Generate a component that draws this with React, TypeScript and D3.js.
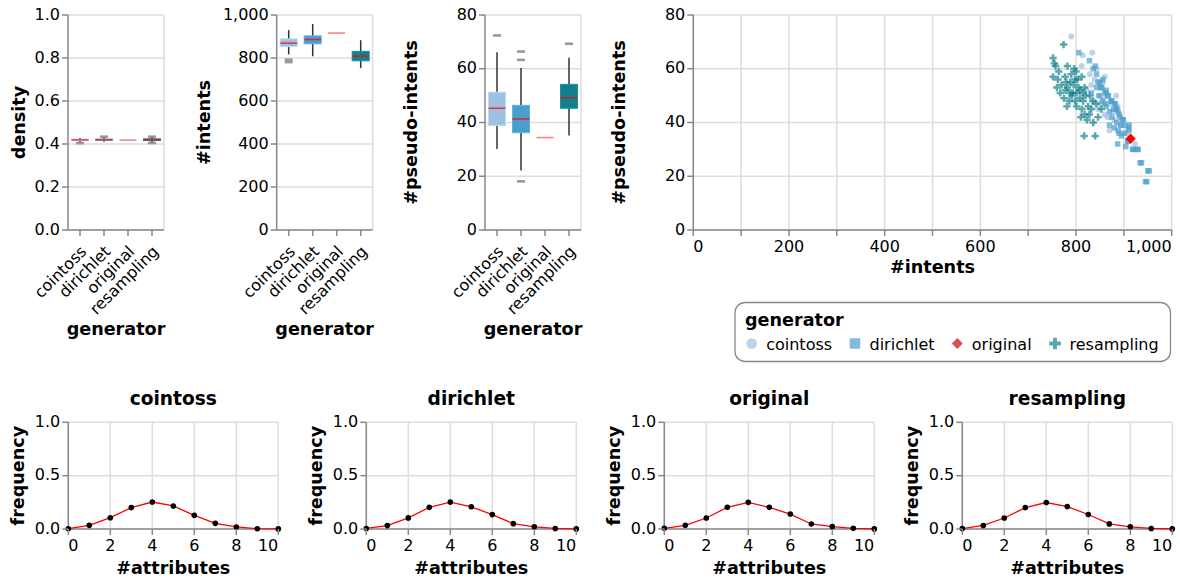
import React from "react";
import * as d3 from "d3";

const FONT = "DejaVu Sans";
const generators = ["cointoss", "dirichlet", "original", "resampling"];
const genColors = ["#a0c0e0", "#4a9ecb", "#c90904", "#12808c"];

// box stats: [whiskerLow, q1, median, q3, whiskerHigh]
const densityStats = [
  [0.408, 0.416, 0.419, 0.422, 0.428],
  [0.411, 0.417, 0.42, 0.423, 0.43],
  [0.418, 0.418, 0.418, 0.418, 0.418],
  [0.409, 0.416, 0.42, 0.424, 0.43],
];
const densityOutliers = [[0.404], [0.434], [], [0.405, 0.434]];

const intentsStats = [
  [817, 853, 869, 889, 930],
  [808, 866, 886, 903, 958],
  [916, 916, 916, 916, 916],
  [753, 787, 809, 831, 883],
];
const intentsOutliers = [[792, 781], [], [], []];

const pseudoStats = [
  [30.1, 38.9, 45.3, 51.3, 66.1],
  [22.1, 36.2, 41.3, 46.4, 60.3],
  [34.4, 34.4, 34.4, 34.4, 34.4],
  [35.2, 45.3, 49.2, 54.2, 64.1],
];
const pseudoOutliers = [[72.4], [66.4, 63.3, 18.1], [], [69.3]];

const densityTicks = [0, 0.2, 0.4, 0.6, 0.8, 1.0];
const intentsTicks = [0, 200, 400, 600, 800, 1000];
const pseudoTicks = [0, 20, 40, 60, 80];

// scatter: [#intents, #pseudo-intents]
const cointossPoints = [
  [790, 72], [834, 66], [814, 65], [812, 61], [860, 57], [829, 58], [839, 56],
  [853, 53], [863, 51], [849, 50], [836, 48], [873, 48], [884, 50], [877, 44],
  [866, 42], [860, 43], [894, 39], [923, 32], [846, 45], [822, 52], [843, 60],
  [870, 37], [887, 46], [856, 55], [868, 47], [880, 41], [850, 47], [905, 36],
  [832, 54], [858, 49],
];
const dirichletPoints = [
  [806, 66], [828, 63], [836, 60], [840, 61], [843, 58], [846, 55], [850, 55],
  [851, 53], [854, 53], [860, 51], [863, 52], [866, 50], [868, 50], [873, 48],
  [875, 48], [880, 47], [882, 47], [884, 45], [885, 45], [888, 44], [890, 43],
  [892, 42], [897, 41], [899, 41], [870, 39], [880, 38], [890, 36], [888, 37],
  [895, 35], [901, 36], [902, 39], [909, 38], [911, 39], [908, 33], [887, 32],
  [904, 31], [909, 33], [918, 30], [920, 30], [928, 30], [930, 30], [934, 25],
  [937, 25], [950, 22], [953, 22], [945, 18], [948, 18], [855, 48], [863, 46],
  [875, 42], [843, 53], [832, 51], [856, 56], [885, 40], [911, 37], [870, 44],
  [878, 45], [893, 39], [860, 47], [848, 50],
];
const resamplingPoints = [
  [774, 69], [752, 64], [755, 62], [757, 61], [764, 59], [782, 61], [796, 60],
  [800, 59], [752, 57], [762, 56], [777, 57], [780, 55], [788, 55], [798, 56],
  [812, 57], [760, 53], [770, 54], [782, 53], [793, 51], [801, 51], [808, 52],
  [818, 53], [775, 49], [791, 50], [798, 48], [815, 48], [781, 46], [801, 46],
  [812, 45], [825, 46], [832, 45], [818, 43], [823, 41], [836, 40], [846, 42],
  [853, 45], [842, 47], [817, 35], [840, 35], [829, 50], [788, 51], [805, 53],
  [767, 51], [795, 54], [808, 49], [820, 50], [786, 48], [810, 42], [828, 43],
  [778, 52], [803, 56], [790, 58], [814, 51], [835, 48],
];
const originalPoints = [[914, 34]];

const scatterXTicks = [0, 100, 200, 300, 400, 500, 600, 700, 800, 900, 1000];
const scatterXLabels = [0, 200, 400, 600, 800, 1000];
const scatterYTicks = [0, 20, 40, 60, 80];

const attributes = [0, 1, 2, 3, 4, 5, 6, 7, 8, 9, 10];
const freqCointoss = [0.003, 0.034, 0.106, 0.2, 0.253, 0.216, 0.128, 0.053, 0.019, 0.003, 0.001];
const freqDirichlet = [0.005, 0.032, 0.104, 0.203, 0.252, 0.208, 0.135, 0.05, 0.02, 0.005, 0.001];
const freqOriginal = [0.006, 0.034, 0.103, 0.203, 0.25, 0.203, 0.14, 0.047, 0.022, 0.006, 0.001];
const freqResampling = [0.004, 0.033, 0.103, 0.2, 0.248, 0.21, 0.136, 0.048, 0.02, 0.005, 0.001];
const freqSeries = [freqCointoss, freqDirichlet, freqOriginal, freqResampling];
const attrTicks = [0, 2, 4, 6, 8, 10];
const freqTicks = [0, 0.5, 1.0];

// layout
const TOP = 15;
const BOTTOM = 230;
const GRID = "#dddddd";
const AXIS = "#888888";
const LABEL_SIZE = 16;
const TITLE_SIZE = 17.6;

const diamondPath = (r: number) => `M${-r},0L0,${-r}L${r},0L0,${r}Z`;
const symbolPath = (i: number, area: number) => {
  if (i === 0) return d3.symbol(d3.symbolCircle, area)() as string;
  if (i === 1) return d3.symbol(d3.symbolSquare, area)() as string;
  if (i === 2) return diamondPath(Math.sqrt(area) / 2 * 1.0);
  return d3.symbol(d3.symbolCross, area)() as string;
};

function BoxPanel(props: {
  x0: number;
  max: number;
  ticks: number[];
  fmt: (n: number) => string;
  stats: number[][];
  outliers: number[][];
  title: string;
  titleX: number;
}) {
  const { x0, max, ticks, fmt, stats, outliers, title, titleX } = props;
  const y = d3.scaleLinear().domain([0, max]).range([BOTTOM, TOP]);
  const x = d3.scaleBand().domain(generators).range([x0, x0 + 96]);
  const bw = 17;
  return (
    <g>
      {ticks.map((t) => (
        <line key={"g" + t} x1={x0} x2={x0 + 96} y1={y(t)} y2={y(t)} stroke={GRID} strokeWidth={1.5} />
      ))}
      <line x1={x0 + 96} x2={x0 + 96} y1={TOP} y2={BOTTOM} stroke={GRID} strokeWidth={1.5} />
      {generators.map((g, i) => {
        const cx = (x(g) as number) + x.bandwidth() / 2;
        const [wl, q1, md, q3, wh] = stats[i];
        const isOrig = g === "original";
        return (
          <g key={g}>
            {outliers[i].map((o, j) => (
              <rect key={j} x={cx - 4} y={y(o) - 1.3} width={8} height={2.6} fill="#999" />
            ))}
            {!isOrig && (
              <line x1={cx} x2={cx} y1={y(wl)} y2={y(wh)} stroke="#333" strokeWidth={1.5} />
            )}
            {!isOrig && (
              <rect
                x={cx - bw / 2}
                y={y(q3)}
                width={bw}
                height={Math.max(0.5, y(q1) - y(q3))}
                fill={genColors[i]}
                stroke={d3.color(genColors[i])!.brighter(0.4).toString()}
                strokeWidth={1}
              />
            )}
            <line
              x1={cx - bw / 2}
              x2={cx + bw / 2}
              y1={y(md)}
              y2={y(md)}
              stroke={isOrig ? "#ff8080" : "red"}
              strokeOpacity={isOrig ? 1 : 0.7}
              strokeWidth={1.6}
            />
          </g>
        );
      })}
      <line x1={x0} x2={x0} y1={TOP} y2={BOTTOM} stroke={AXIS} strokeWidth={1.5} />
      <line x1={x0} x2={x0 + 96} y1={BOTTOM} y2={BOTTOM} stroke={AXIS} strokeWidth={1.5} />
      {ticks.map((t) => (
        <g key={"t" + t}>
          <line x1={x0 - 6} x2={x0} y1={y(t)} y2={y(t)} stroke={AXIS} strokeWidth={1.5} />
          <text x={x0 - 8} y={y(t)} textAnchor="end" dominantBaseline="middle" fontSize={LABEL_SIZE}>
            {fmt(t)}
          </text>
        </g>
      ))}
      {generators.map((g) => {
        const cx = (x(g) as number) + x.bandwidth() / 2;
        return (
          <g key={"xl" + g}>
            <line x1={cx} x2={cx} y1={BOTTOM} y2={BOTTOM + 6} stroke={AXIS} strokeWidth={1.5} />
            <text
              transform={`translate(${cx - 1},${BOTTOM + 14}) rotate(-45)`}
              textAnchor="end"
              dominantBaseline="hanging"
              fontSize={LABEL_SIZE}
            >
              {g}
            </text>
          </g>
        );
      })}
      <text
        transform={`translate(${titleX},${(TOP + BOTTOM) / 2}) rotate(-90)`}
        textAnchor="middle"
        fontSize={TITLE_SIZE}
        fontWeight="bold"
      >
        {title}
      </text>
      <text x={x0 + 48} y={335} textAnchor="middle" fontSize={TITLE_SIZE} fontWeight="bold">
        generator
      </text>
    </g>
  );
}

function Scatter() {
  const x0 = 693.3;
  const x1 = 1171.7;
  const x = d3.scaleLinear().domain([0, 1000]).range([x0, x1]);
  const y = d3.scaleLinear().domain([0, 80]).range([BOTTOM, TOP]);
  const series = [cointossPoints, dirichletPoints, null, resamplingPoints];
  const order = [0, 3, 1];
  const areas = [28, 30, 0, 30];
  const fmt = d3.format(",");
  return (
    <g>
      {scatterXTicks.map((t) => (
        <line key={"gx" + t} x1={x(t)} x2={x(t)} y1={TOP} y2={BOTTOM} stroke={GRID} strokeWidth={1.5} />
      ))}
      {scatterYTicks.map((t) => (
        <line key={"gy" + t} x1={x0} x2={x1} y1={y(t)} y2={y(t)} stroke={GRID} strokeWidth={1.5} />
      ))}
      {order.map((si) =>
        (series[si] as number[][]).map((p, j) => (
          <path
            key={si + "-" + j}
            d={symbolPath(si, areas[si])}
            transform={`translate(${x(p[0])},${y(p[1])})`}
            fill={genColors[si]}
            fillOpacity={0.7}
          />
        ))
      )}
      {originalPoints.map((p, j) => (
        <path key={"o" + j} d={diamondPath(5.2)} transform={`translate(${x(p[0])},${y(p[1])})`} fill="#ff0000" />
      ))}
      <line x1={x0} x2={x0} y1={TOP} y2={BOTTOM} stroke={AXIS} strokeWidth={1.5} />
      <line x1={x0} x2={x1} y1={BOTTOM} y2={BOTTOM} stroke={AXIS} strokeWidth={1.5} />
      {scatterYTicks.map((t) => (
        <g key={"ty" + t}>
          <line x1={x0 - 6} x2={x0} y1={y(t)} y2={y(t)} stroke={AXIS} strokeWidth={1.5} />
          <text x={x0 - 8} y={y(t)} textAnchor="end" dominantBaseline="middle" fontSize={LABEL_SIZE}>
            {t}
          </text>
        </g>
      ))}
      {scatterXTicks.map((t) => (
        <line key={"tx" + t} x1={x(t)} x2={x(t)} y1={BOTTOM} y2={BOTTOM + 6} stroke={AXIS} strokeWidth={1.5} />
      ))}
      {scatterXLabels.map((t, i) => (
        <text
          key={"lx" + t}
          x={x(t)}
          y={BOTTOM + 21.7}
          textAnchor={i === 0 ? "start" : i === scatterXLabels.length - 1 ? "end" : "middle"}
          fontSize={LABEL_SIZE}
        >
          {fmt(t)}
        </text>
      ))}
      <text
        transform={`translate(${624.5},${(TOP + BOTTOM) / 2}) rotate(-90)`}
        textAnchor="middle"
        fontSize={TITLE_SIZE}
        fontWeight="bold"
      >
        #pseudo-intents
      </text>
      <text x={(x0 + x1) / 2} y={273} textAnchor="middle" fontSize={TITLE_SIZE} fontWeight="bold">
        #intents
      </text>
    </g>
  );
}

function Legend() {
  const itemX = [751.7, 855, 957.3, 1055];
  const legendAreas = [90, 110, 0, 75];
  return (
    <g>
      <rect x={735} y={302.5} width={435.5} height={59} rx={10} ry={10} fill="white" stroke="#888" strokeWidth={1.3} />
      <text x={745} y={325.5} fontSize={TITLE_SIZE} fontWeight="bold">
        generator
      </text>
      {generators.map((g, i) => (
        <g key={g}>
          <path
            d={i === 2 ? diamondPath(5.5) : symbolPath(i, legendAreas[i])}
            transform={`translate(${itemX[i]},${343.5})`}
            fill={genColors[i]}
            fillOpacity={0.7}
          />
          <text x={itemX[i] + 14.5} y={349.5} fontSize={LABEL_SIZE}>
            {g}
          </text>
        </g>
      ))}
    </g>
  );
}

function FreqPanel(props: { x0: number; name: string; values: number[] }) {
  const { x0, name, values } = props;
  const top = 422.3;
  const bottom = 529;
  const w = 210;
  const x = d3.scaleLinear().domain([0, 10]).range([x0, x0 + w]);
  const y = d3.scaleLinear().domain([0, 1]).range([bottom, top]);
  const line = d3
    .line<number>()
    .x((_, i) => x(attributes[i]))
    .y((v) => y(v));
  return (
    <g>
      {attrTicks.map((t) => (
        <line key={"gx" + t} x1={x(t)} x2={x(t)} y1={top} y2={bottom} stroke={GRID} strokeWidth={1.5} />
      ))}
      {freqTicks.map((t) => (
        <line key={"gy" + t} x1={x0} x2={x0 + w} y1={y(t)} y2={y(t)} stroke={GRID} strokeWidth={1.5} />
      ))}
      <line x1={x0} x2={x0} y1={top} y2={bottom} stroke={AXIS} strokeWidth={1.5} />
      <line x1={x0} x2={x0 + w} y1={bottom} y2={bottom} stroke={AXIS} strokeWidth={1.5} />
      <path d={line(values) as string} fill="none" stroke="red" strokeWidth={1.3} />
      {values.map((v, i) => (
        <circle key={i} cx={x(attributes[i])} cy={y(v)} r={2.8} fill="black" />
      ))}
      {freqTicks.map((t) => (
        <g key={"ty" + t}>
          <line x1={x0 - 6} x2={x0} y1={y(t)} y2={y(t)} stroke={AXIS} strokeWidth={1.5} />
          <text x={x0 - 8} y={y(t)} textAnchor="end" dominantBaseline="middle" fontSize={LABEL_SIZE}>
            {d3.format(".1f")(t)}
          </text>
        </g>
      ))}
      {attrTicks.map((t, i) => (
        <g key={"tx" + t}>
          <line x1={x(t)} x2={x(t)} y1={bottom} y2={bottom + 6} stroke={AXIS} strokeWidth={1.5} />
          <text
            x={x(t)}
            y={bottom + 22}
            textAnchor={i === 0 ? "start" : i === attrTicks.length - 1 ? "end" : "middle"}
            fontSize={LABEL_SIZE}
          >
            {t}
          </text>
        </g>
      ))}
      <text
        transform={`translate(${x0 - 44},${(top + bottom) / 2}) rotate(-90)`}
        textAnchor="middle"
        fontSize={TITLE_SIZE}
        fontWeight="bold"
      >
        frequency
      </text>
      <text x={x0 + w / 2} y={574} textAnchor="middle" fontSize={TITLE_SIZE} fontWeight="bold">
        #attributes
      </text>
      <text x={x0 + w / 2} y={405} textAnchor="middle" fontSize={18.6} fontWeight="bold">
        {name}
      </text>
    </g>
  );
}

export default function App() {
  const freqX = [68.3, 366.3, 664.3, 962.3];
  return (
    <svg
      width={1180}
      height={583}
      style={{ position: "absolute", left: 0, top: 0, display: "block", background: "white" }}
      fontFamily={FONT}
    >
      <rect width={1180} height={583} fill="white" />
      <BoxPanel x0={68} max={1} ticks={densityTicks} fmt={d3.format(".1f")} stats={densityStats} outliers={densityOutliers} title="density" titleX={25} />
      <BoxPanel x0={276.7} max={1000} ticks={intentsTicks} fmt={d3.format(",")} stats={intentsStats} outliers={intentsOutliers} title="#intents" titleX={209.5} />
      <BoxPanel x0={485} max={80} ticks={pseudoTicks} fmt={d3.format("d")} stats={pseudoStats} outliers={pseudoOutliers} title="#pseudo-intents" titleX={416.5} />
      <Scatter />
      <Legend />
      {generators.map((g, i) => (
        <FreqPanel key={g} x0={freqX[i]} name={g} values={freqSeries[i]} />
      ))}
    </svg>
  );
}
